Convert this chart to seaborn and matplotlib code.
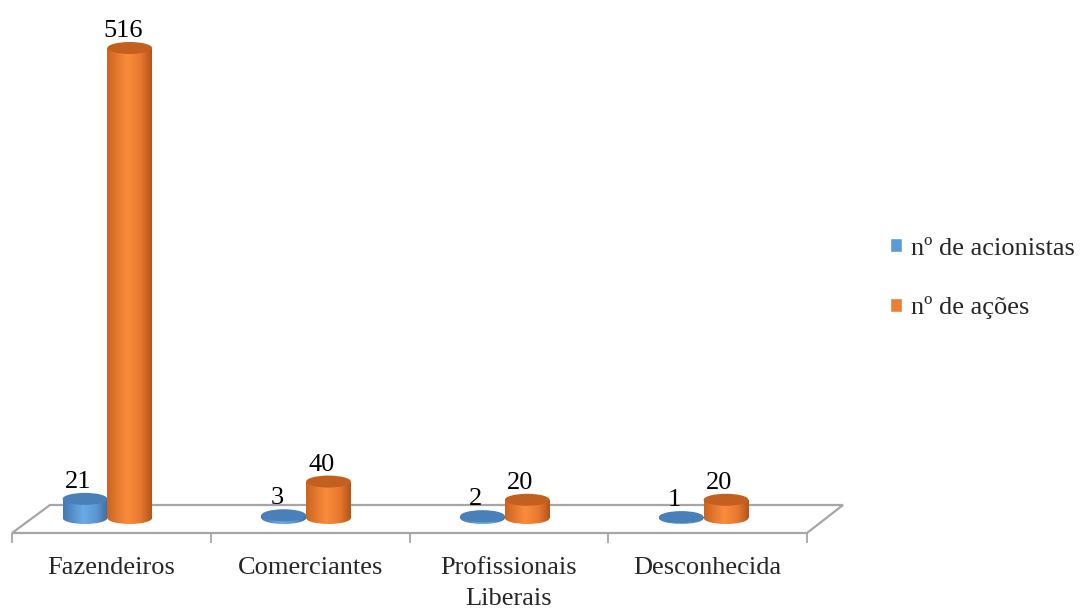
import numpy as np
import pandas as pd
import matplotlib
matplotlib.use("Agg")
import matplotlib.pyplot as plt
import seaborn as sns
from matplotlib.patches import Ellipse, Rectangle, Patch, Polygon
from matplotlib.colors import LinearSegmentedColormap

# --- data -------------------------------------------------------------
categorias = ["Fazendeiros", "Comerciantes", "Profissionais\nLiberais", "Desconhecida"]
acionistas = [21, 3, 2, 1]
acoes = [516, 40, 20, 20]
series = ["nº de acionistas", "nº de ações"]

df = pd.DataFrame({
    "categoria": categorias * 2,
    "valor": acionistas + acoes,
    "serie": [series[0]] * len(categorias) + [series[1]] * len(categorias),
})

# --- style ------------------------------------------------------------
sns.set_theme(style="white")
plt.rcParams["font.family"] = ["Liberation Serif", "DejaVu Serif"]
FS = 19

base = {series[0]: "#5B9BD5", series[1]: "#ED7D31"}
shades = {
    series[0]: dict(grad=["#4479B4", "#6AAAE6", "#5B97D2", "#3A6CA3"], top="#4A80BA"),
    series[1]: dict(grad=["#CC6420", "#FA8C3C", "#E8782E", "#B5531A"], top="#C4601F"),
}

W, H = 1080, 608
fig = plt.figure(figsize=(W / 100, H / 100), dpi=100)
fig.patch.set_facecolor("white")
ax = fig.add_axes([12 / W, 75 / H, 795 / W, 513 / H])

sns.barplot(data=df, x="categoria", y="valor", hue="serie", palette=base,
            width=0.45, saturation=1, legend=False, ax=ax)

# vertical scale (pixels per unit) and limits; the base of the bars sits
# 15 px above the front edge of the floor
k = 470 / 516
ymin = -15 / k
ymax = (518 - 20) / k
ell_h = 12 / k

# --- floor -----------------------------------------------------------------
px_x = 795 / 4
yb = 13 / k
floor = Polygon([(-0.5, ymin), (3.5, ymin), (-0.5 + 831 / px_x, yb), (-0.5 + 38 / px_x, yb)],
                closed=True, facecolor="white", edgecolor="#A6A6A6", lw=1.6,
                zorder=0.5, clip_on=False)
ax.add_patch(floor)

# --- cylinders -------------------------------------------------------------
grad = np.linspace(0, 1, 256).reshape(1, -1)
bars = [p for p in ax.patches if isinstance(p, Rectangle) and p is not floor]
n = len(categorias)
shift = 4 / px_x  # perspective nudge of the bar pairs to the left
for i, p in enumerate(bars):
    serie = series[i // n]
    val = (acionistas + acoes)[i]
    x0, w = p.get_x() - shift, p.get_width()
    h = p.get_height()
    p.set_visible(False)
    z = 2 + i * 0.1
    cmap = LinearSegmentedColormap.from_list(
        "c", list(zip([0, 0.45, 0.75, 1], shades[serie]["grad"])))
    clips = [Rectangle((x0, 0), w, h, transform=ax.transData),
             Ellipse((x0 + w / 2, 0), w, ell_h, transform=ax.transData)]
    for c in clips:
        im = ax.imshow(grad, cmap=cmap, extent=[x0, x0 + w, -ell_h / 2, h],
                       aspect="auto", origin="lower", interpolation="bicubic", zorder=z)
        im.set_clip_path(c)
    ax.add_patch(Ellipse((x0 + w / 2, h), w, ell_h, facecolor=shades[serie]["top"],
                         edgecolor="none", zorder=z + 0.01))
    ax.annotate(f"{val}", xy=(x0 + w / 2, h), xytext=(-7, 17), textcoords="offset pixels",
                ha="center", va="center", fontsize=FS, color="black", zorder=10)

# --- axes ------------------------------------------------------------------
ax.set_xlim(-0.5, 3.5)
ax.set_ylim(ymin, ymax)
for s in ax.spines.values():
    s.set_visible(False)
ax.set_xlabel("")
ax.set_ylabel("")
ax.set_yticks([])
ax.set_xticks(range(n))
ax.set_xticklabels(categorias, fontsize=FS, linespacing=1.55)
ax.set_xticks(np.arange(-0.5, n, 1.0), minor=True)
ax.tick_params(axis="x", which="major", length=0, pad=17)
ax.tick_params(axis="x", which="minor", bottom=True, length=7, width=1.3,
               color="#A6A6A6", direction="out")

fig.legend(handles=[Patch(facecolor=base[s]) for s in series], labels=series,
           loc="center left", bbox_to_anchor=(890 / W, 1 - 278.5 / H), frameon=False,
           fontsize=FS, handlelength=0.45, handleheight=0.45, handletextpad=0.35,
           labelspacing=1.4, borderpad=0, borderaxespad=0)

fig.savefig("out.png", dpi=100)
